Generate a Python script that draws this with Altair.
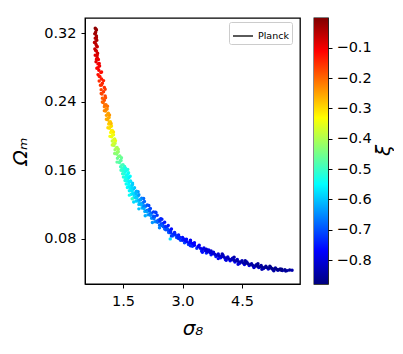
import altair as alt
import pandas as pd

sigma8 = [
 .80,.83,.81,.79,.83,.80,.84,.78,.82,.85,.79,.83,.86,.80,.85,.88,.82,.87,.91,.84,.89,.94,.87,.92,.96,.90,.98,.93,1.03,.95,1.01,.97,1.05,.98,1.03,
 1.0,1.07,1.03,1.10,1.06,1.13,1.08,1.15,1.11,1.18,1.14,1.21,1.16,1.23,1.19,1.26,1.21,1.29,1.23,1.30,1.27,1.35,1.30,1.38,1.34,1.42,1.36,1.45,1.41,1.50,1.44,
 1.52,1.45,1.55,1.49,1.59,1.51,1.62,1.55,1.66,1.58,1.71,1.61,1.76,1.66,1.82,1.71,1.88,1.77,1.95,1.83,2.00,1.90,2.07,1.98,2.15,2.05,2.22,2.13,2.30,2.22,2.40,2.31,2.50,2.42,
 2.33,1.73,2.69,
 2.50,2.55,2.60,2.65,2.70,2.75,2.80,2.85,2.90,2.95,3.00,3.05,3.10,3.15,3.20,3.25,3.30,
 3.36,3.42,3.48,3.54,3.60,3.66,3.72,3.78,3.84,3.90,3.96,4.02,4.08,4.14,4.20,4.26,4.32,4.38,4.44,4.50,4.56,4.62,4.68,4.74,4.80,4.86,4.92,4.98,5.04,5.10,5.16,5.22,5.28,5.34,5.40,5.46,5.52,5.58,5.64,5.70,5.76,
 .82,.80,.83,.80,.84,.81,.85,.83,.90,.87,.96,.90,1.01,.96,1.05,.95,1.06,.98,1.11,1.03,1.16,1.08,1.20,1.12,1.26,1.17,1.31,1.23,1.38,1.29,1.46,1.35,1.54,
 1.62,1.64,1.68,1.60,1.74,1.66,1.71,1.76,1.83,1.89,1.95,2.02,2.10,2.18,2.26,2.36,2.46,
 1.88,2.02,2.15,2.32,2.48,1.66,1.77,1.90,2.06,2.24,2.42,
 2.52,2.58,2.64,2.70,2.76,2.82,2.88,2.94,3.00,3.06,3.12,3.18,3.24,3.30,3.39,3.45,3.51,3.57,3.63,3.69,3.75,3.81,3.87,3.93,3.99,
 4.05,4.11,4.17,4.23,4.29,4.35,4.41,4.47,4.53,4.59,4.65,4.71,4.77,4.83,4.89,4.95,5.01,5.07,5.13,5.19,5.25,5.31,5.37,5.43,5.49,
]
omega_m = [
 .3255,.3235,.321,.319,.3165,.314,.3115,.309,.3065,.304,.3015,.299,.2965,.294,.2915,.289,.2865,.284,.2815,.279,.2765,.274,.2715,.269,.2665,.264,.2615,.259,.2565,.254,.2515,.249,.2465,.244,.2415,
 .239,.2365,.234,.2315,.229,.2265,.224,.2215,.219,.2165,.214,.2115,.209,.2065,.204,.2015,.199,.1965,.194,.1915,.189,.1865,.184,.1815,.179,.1765,.174,.1715,.169,.1665,.164,
 .162,.160,.158,.156,.154,.152,.150,.148,.146,.144,.142,.140,.138,.136,.134,.132,.130,.128,.126,.124,.122,.120,.118,.116,.114,.112,.110,.108,.106,.104,.102,.100,.098,.096,
 .1107,.1267,.0800,
 .0965,.0915,.0935,.0875,.0905,.0835,.0875,.0815,.0845,.0785,.0815,.0755,.0795,.0735,.0775,.0715,.0755,
 .0690,.0725,.0660,.0695,.0635,.0670,.0615,.0645,.0595,.0625,.0580,.0610,.0560,.0590,.0545,.0575,.0530,.0560,.0515,.0545,.0500,.0530,.0490,.0510,.0475,.0500,.0465,.0490,.0455,.0480,.0450,.0470,.0440,.0460,.0435,.0450,.0430,.0440,.0430,.0438,.0435,
 .3245,.3195,.3145,.3095,.3045,.2995,.2945,.2895,.2845,.2795,.2745,.2695,.2645,.2595,.2545,.2495,.2445,.2395,.2345,.2295,.2245,.2195,.2145,.2095,.2045,.1995,.1945,.1895,.1845,.1795,.1745,.1695,.1645,
 .161,.157,.153,.149,.145,.141,.137,.133,.129,.125,.121,.117,.113,.109,.105,.101,.097,
 .135,.127,.119,.111,.103,.131,.123,.115,.107,.099,.093,
 .0940,.0905,.0900,.0870,.0855,.0845,.0825,.0815,.0785,.0785,.0765,.0750,.0745,.0725,.0710,.0690,.0680,.0665,.0650,.0640,.0630,.0620,.0610,.0600,.0595,
 .0585,.0575,.0565,.0560,.0550,.0545,.0535,.0530,.0520,.0515,.0510,.0500,.0490,.0485,.0480,.0475,.0470,.0465,.0465,.0460,.0455,.0450,.0445,.0440,.0435,
]
xi = [
 -.01,-.02,-.03,-.02,-.04,-.05,-.04,-.06,-.05,-.07,-.06,-.08,-.07,-.09,-.08,-.10,-.09,-.11,-.10,-.12,-.11,-.13,-.12,-.14,-.13,-.15,-.14,-.16,-.15,-.17,-.16,-.18,-.17,-.19,-.18,
 -.20,-.21,-.22,-.23,-.24,-.25,-.25,-.27,-.27,-.29,-.29,-.31,-.31,-.33,-.33,-.35,-.35,-.37,-.38,-.39,-.40,-.41,-.42,-.43,-.44,-.45,-.46,-.47,-.48,-.49,-.50,
 -.53,-.50,-.54,-.51,-.55,-.52,-.56,-.53,-.57,-.54,-.59,-.55,-.60,-.56,-.62,-.57,-.63,-.58,-.65,-.59,-.66,-.60,-.67,-.61,-.68,-.62,-.69,-.63,-.70,-.64,-.71,-.65,-.72,-.67,
 -.70,-.50,-.58,
 -.73,-.68,-.74,-.69,-.74,-.69,-.75,-.70,-.75,-.71,-.76,-.71,-.76,-.72,-.77,-.73,-.77,-.73,-.78,-.74,-.79,-.74,-.79,-.75,-.80,-.75,-.80,-.76,-.81,-.76,-.81,-.77,-.82,-.78,-.82,-.78,-.83,-.79,-.83,-.79,-.84,-.80,-.84,-.80,-.85,-.81,-.85,-.81,-.85,-.82,-.85,-.82,-.86,-.83,-.86,-.83,-.86,-.84,
 -.02,-.03,-.04,-.05,-.06,-.07,-.08,-.09,-.10,-.11,-.12,-.13,-.14,-.15,-.16,-.17,-.18,-.20,-.21,-.23,-.24,-.26,-.27,-.30,-.31,-.34,-.35,-.38,-.41,-.43,-.46,-.47,-.51,
 -.52,-.53,-.55,-.52,-.59,-.56,-.57,-.58,-.60,-.61,-.63,-.65,-.67,-.68,-.69,-.69,-.71,
 -.64,-.68,-.71,-.72,-.74,-.54,-.58,-.60,-.62,-.64,-.66,
 -.70,-.70,-.72,-.72,-.73,-.73,-.74,-.74,-.75,-.75,-.76,-.76,-.77,-.77,-.78,-.78,-.79,-.79,-.80,-.80,-.80,-.81,-.81,-.82,-.82,
 -.82,-.83,-.83,-.83,-.83,-.84,-.84,-.84,-.84,-.85,-.85,-.85,-.85,-.85,-.86,-.86,-.86,-.86,-.86,-.86,-.87,-.87,-.87,-.87,-.87,
]
extra_sigma8 = [
 1.48,1.56,1.50,1.58,1.53,1.62,1.56,1.65,1.60,1.69,1.64,1.74,1.68,1.79,1.73,1.84,1.78,1.90,1.84,1.97,1.90,2.04,1.97,2.11,2.03,2.19,2.11,2.27,2.19,2.36,2.28,2.45,2.37,2.55,2.48,2.64,2.62,2.72,
 1.53,1.60,1.65,1.73,1.83,1.93,2.03,2.17,2.27,2.43,2.57,2.70,2.80,2.72,2.90,3.05,3.08,
 1.04,1.08,1.12,1.13,1.16,1.19,1.21,1.24,1.27,1.26,1.33,1.36,1.39,1.43,1.47,
 3.20,3.60,3.72,4.00,4.30,4.58,4.90,5.20,5.50,5.60,3.20,3.50,3.90,4.10,4.40,4.80,5.00,5.30,
]
extra_omega_m = [
 .1625,.1625,.1595,.1595,.1555,.1555,.1515,.1515,.1475,.1475,.1435,.1435,.1395,.1395,.1355,.1355,.1315,.1315,.1275,.1275,.1235,.1235,.1195,.1195,.1155,.1155,.1115,.1115,.1075,.1075,.1035,.1035,.0995,.0995,.0955,.0955,.0915,.0915,
 .1605,.1535,.1465,.1395,.1325,.1255,.1185,.1125,.1065,.1005,.0945,.0885,.0865,.0835,.0805,.0795,.0775,
 .236,.231,.226,.221,.216,.211,.206,.201,.196,.191,.186,.181,.176,.171,.166,
 .0785,.0680,.0658,.0625,.0585,.0545,.0510,.0480,.0447,.0425,.0720,.0645,.0570,.0550,.0505,.0465,.0445,.0428,
]
extra_xi = [
 -.50,-.53,-.51,-.54,-.52,-.55,-.53,-.56,-.54,-.57,-.55,-.59,-.56,-.60,-.57,-.62,-.58,-.64,-.59,-.66,-.60,-.68,-.61,-.70,-.62,-.71,-.63,-.72,-.65,-.73,-.67,-.74,-.68,-.75,-.69,-.75,-.70,-.76,
 -.52,-.54,-.56,-.58,-.61,-.63,-.66,-.68,-.70,-.72,-.73,-.74,-.74,-.72,-.74,-.76,-.76,
 -.21,-.23,-.25,-.26,-.28,-.30,-.32,-.34,-.36,-.37,-.40,-.42,-.44,-.47,-.49,
 -.78,-.81,-.81,-.83,-.84,-.85,-.86,-.87,-.87,-.86,-.74,-.76,-.78,-.80,-.80,-.82,-.84,-.85,
]
jet = ["#00007f","#0000ff","#007fff","#00ffff","#7fff7f","#ffff00","#ff7f00","#ff0000","#7f0000"]
xi_lo, xi_hi = -0.879, -0.002
x_ticks = [1.5, 3.0, 4.5]
y_ticks = [0.08, 0.16, 0.24, 0.32]
cb_ticks = [-0.1, -0.2, -0.3, -0.4, -0.5, -0.6, -0.7, -0.8]
series_name = ["Planck"]
F = "DejaVu Sans"

df = pd.DataFrame({"s": sigma8 + extra_sigma8, "o": omega_m + extra_omega_m, "xi": xi + extra_xi})
color_scale = alt.Scale(domain=[xi_lo + i * (xi_hi - xi_lo) / 8 for i in range(9)], range=jet, interpolate="rgb")
xs = alt.Scale(domain=[0.542, 5.96], nice=False, zero=False)
ys = alt.Scale(domain=[0.0274, 0.3375], nice=False, zero=False)

pts = alt.Chart(df).mark_circle(size=12, opacity=1).encode(
    x=alt.X("s:Q", scale=xs, axis=alt.Axis(values=x_ticks, format=".1f", title="σ₈", grid=False, tickSize=4, tickColor="black",
            domainColor="black", labelFont=F, labelFontSize=14.5, labelColor="black", labelPadding=6, titleFont=F, titleFontSize=20,
            titleFontWeight="normal", titleFontStyle="italic", titleColor="black", titlePadding=11)),
    y=alt.Y("o:Q", scale=ys, axis=alt.Axis(values=y_ticks, format=".2f", title="Ωₘ", grid=False, tickSize=4, tickColor="black",
            domainColor="black", labelFont=F, labelFontSize=14.5, labelColor="black", labelPadding=5, titleFont=F, titleFontSize=20,
            titleFontWeight="normal", titleFontStyle="italic", titleColor="black", titlePadding=13)),
    color=alt.Color("xi:Q", scale=color_scale, legend=None),
)
line = alt.Chart(pd.DataFrame({"n": series_name, "s": [None], "o": [None]})).mark_line(strokeWidth=1.3).encode(
    x=alt.X("s:Q", scale=xs),
    y=alt.Y("o:Q", scale=ys),
    stroke=alt.Stroke("n:N", scale=alt.Scale(domain=series_name, range=["black"]),
        legend=alt.Legend(title=None, orient="none", legendX=144, legendY=4, labelFont=F, labelFontSize=9.5, labelColor="black",
                          symbolType="stroke", symbolSize=400, symbolStrokeWidth=1.3, strokeColor="#cccccc", fillColor="white",
                          cornerRadius=2, padding=3)),
)
main = alt.layer(pts, line).properties(width=215, height=266)

bar_df = pd.DataFrame({"lo": [xi_lo], "hi": [xi_hi]})
grad = alt.Gradient(gradient="linear", x1=0, x2=0, y1=1, y2=0,
                    stops=[alt.GradientStop(offset=i / 8, color=c) for i, c in enumerate(jet)])
bar = alt.Chart(bar_df).mark_rect(fill=grad).encode(
    y=alt.Y("lo:Q", scale=alt.Scale(domain=[xi_lo, xi_hi], nice=False, zero=False),
            axis=alt.Axis(orient="right", values=cb_ticks, format=".1f", title="ξ", grid=False, domain=False, tickSize=4, tickColor="black",
                          labelFont=F, labelFontSize=14.5, labelColor="black", labelPadding=4, titleFont=F, titleFontSize=20,
                          titleFontWeight="normal", titleFontStyle="italic", titleColor="black", titleAngle=270, titleX=65, titleY=132)),
    y2="hi:Q",
).properties(width=14, height=266)

chart = alt.hconcat(main, bar, spacing=12).properties(padding={"left": 2, "top": 9, "right": 0, "bottom": 0}).configure_view(
    stroke="black", strokeWidth=1.3)
chart.save("out.html", embed_options={"renderer": "svg", "actions": False})
